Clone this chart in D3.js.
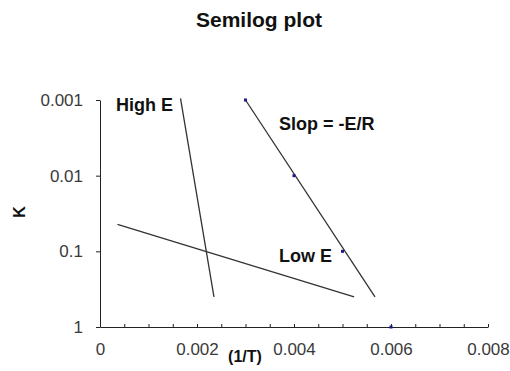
<!DOCTYPE html>
<html>
<head>
<meta charset="utf-8">
<script src="https://cdn.jsdelivr.net/npm/d3@7"></script>
<style>
  body { margin: 0; background: #fff; }
  svg { display: block; font-family: 'Liberation Sans', Arial, sans-serif; }
  .axis path, .axis line { stroke: #222; }
  .axis text { fill: #3a3a3a; font-size: 17px; }
</style>
</head>
<body>
<svg id="chart" width="510" height="371"></svg>
<script>
// values
const xTicks = [0, 0.002, 0.004, 0.006, 0.008];
const yTicks = [0.001, 0.01, 0.1, 1];

// fitted line (slope = -E/R) and its measured points
const slopeLine = [{ x: 0.003, k: 0.001 }, { x: 0.00567, k: 0.4 }];
const slopePoints = [
  { x: 0.003, k: 0.001 },
  { x: 0.004, k: 0.01 },
  { x: 0.005, k: 0.1 },
  { x: 0.006, k: 1 }
];
const highE = [{ x: 0.00166, k: 0.00095 }, { x: 0.00235, k: 0.4 }];
const lowE = [{ x: 0.00036, k: 0.044 }, { x: 0.00524, k: 0.4 }];

const notes = [
  { text: 'High E', x: 0.00033, k: 0.0014 },
  { text: 'Slop = -E/R', x: 0.00369, k: 0.0025 },
  { text: 'Low E', x: 0.00369, k: 0.14 }
];

const svg = d3.select('#chart');
const x = d3.scaleLinear().domain([0, 0.008]).range([100, 488]);
const y = d3.scaleLog().domain([0.001, 1]).range([100, 327]);

svg.append('text')
  .attr('x', 259).attr('y', 27)
  .attr('text-anchor', 'middle')
  .style('font-size', '21px').style('font-weight', 'bold').style('fill', '#111')
  .text('Semilog plot');

// y axis
svg.append('g')
  .attr('class', 'axis')
  .attr('transform', 'translate(100,0)')
  .call(d3.axisLeft(y).tickValues(yTicks).tickFormat(String)
    .tickSizeInner(4).tickSizeOuter(0).tickPadding(13));

// x axis: minor ticks pointing up, labels below
svg.append('g')
  .attr('class', 'axis')
  .attr('transform', 'translate(0,327)')
  .call(d3.axisBottom(x).ticks(20).tickFormat('')
    .tickSizeInner(-3).tickSizeOuter(0));
svg.append('g')
  .attr('class', 'axis')
  .attr('transform', 'translate(0,327)')
  .call(d3.axisBottom(x).tickValues(xTicks).tickFormat(String)
    .tickSize(0).tickPadding(16))
  .call(g => g.select('.domain').remove());

svg.append('text')
  .attr('x', 245).attr('y', 362)
  .attr('text-anchor', 'middle')
  .style('font-size', '16px').style('font-weight', 'bold').style('fill', '#111')
  .text('(1/T)');

svg.append('text')
  .attr('transform', 'translate(25,212) rotate(-90)')
  .attr('text-anchor', 'middle')
  .style('font-size', '16px').style('font-weight', 'bold').style('fill', '#111')
  .text('K');

const line = d3.line().x(d => x(d.x)).y(d => y(d.k));

svg.selectAll('.trend')
  .data([highE, lowE, slopeLine])
  .join('path')
  .attr('class', 'trend')
  .attr('d', line)
  .attr('fill', 'none')
  .attr('stroke', '#333')
  .attr('stroke-width', 1.3);

svg.selectAll('.pt')
  .data(slopePoints)
  .join('rect')
  .attr('class', 'pt')
  .attr('x', d => x(d.x) - 1.5)
  .attr('y', d => y(d.k) - 1.5)
  .attr('width', 3).attr('height', 3)
  .attr('fill', '#1a1a8c');

svg.selectAll('.note')
  .data(notes)
  .join('text')
  .attr('class', 'note')
  .attr('x', d => x(d.x))
  .attr('y', d => y(d.k))
  .style('font-size', '18px').style('font-weight', 'bold').style('fill', '#111')
  .text(d => d.text);
</script>
</body>
</html>
